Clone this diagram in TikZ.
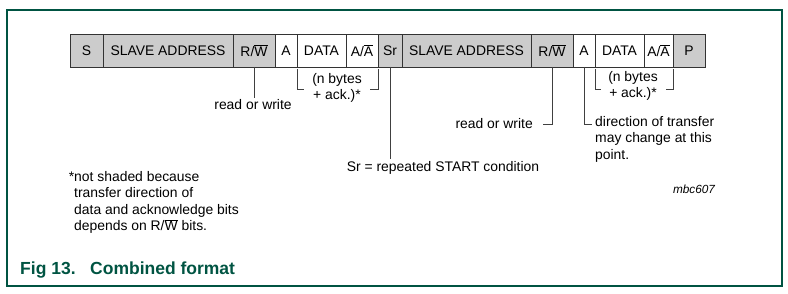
\documentclass[tikz,border=0pt]{standalone}
\usepackage{fontspec}
\setmainfont{Liberation Sans}
\usetikzlibrary{positioning}
\definecolor{figgreen}{RGB}{0,84,66}
\definecolor{cellgray}{RGB}{204,204,204}
\newcommand{\ovl}[1]{$\overline{\mbox{#1}}$}

\begin{document}
\begin{tikzpicture}[x=1pt, y=-1pt,
      cell/.style={draw=black!80, line width=0.8pt, outer sep=0pt, inner sep=0pt,
                   minimum height=33pt, font=\fontsize{13.9}{16.5}\selectfont},
      shd/.style={cell, fill=cellgray},
      lbl/.style={font=\fontsize{13.9}{16.5}\selectfont, inner sep=2pt, align=left},
      captxt/.style={font=\fontsize{17.5}{20}\selectfont\bfseries, text=figgreen, inner sep=0pt, anchor=base west},
      wire/.style={black!75, line width=0.8pt}]

    \useasboundingbox (0,0) rectangle (788,294);
    \draw[figgreen, line width=1.2pt] (7,10) rectangle (782,286);

    % ---- Layout ----
    \def\ry{50.5}     % row centre y
    \def\rx{70}       % row left x

    % ---- Frame row ----
    \node[shd, minimum width=33pt, anchor=west] (s) at (\rx, \ry) {S};
    \node[shd,  minimum width=130pt, right=0pt of s]   (sa1) {SLAVE ADDRESS};
    \node[shd,  minimum width=42pt,  right=0pt of sa1] (rw1) {R/\ovl{W}};
    \node[cell, minimum width=22pt,  right=0pt of rw1] (a1)  {A};
    \node[cell, minimum width=49pt,  right=0pt of a1]  (d1)  {DATA};
    \node[cell, minimum width=32pt,  right=0pt of d1]  (aa1) {A/\ovl{A}};
    \node[shd,  minimum width=24pt,  right=0pt of aa1] (sr)  {Sr};
    \node[shd,  minimum width=129pt, right=0pt of sr]  (sa2) {SLAVE ADDRESS};
    \node[shd,  minimum width=42pt,  right=0pt of sa2] (rw2) {R/\ovl{W}};
    \node[cell, minimum width=22pt,  right=0pt of rw2] (a2)  {A};
    \node[cell, minimum width=49pt,  right=0pt of a2]  (d2)  {DATA};
    \node[cell, minimum width=29pt,  right=0pt of d2]  (aa2) {A/\ovl{A}};
    \node[shd,  minimum width=32pt,  right=0pt of aa2] (p)   {P};

    % ---- n bytes brackets ----
    \draw[wire] ([yshift=-2pt]d1.south west) -- ++(0,20) -- ++(7,0);
    \draw[wire] ([yshift=-2pt]aa1.south east) -- ++(0,20) -- ++(-8,0);
    \node[lbl, align=center] (nb1) at (337,88) {(n bytes\\+ ack.)*};

    \draw[wire] ([yshift=-2pt]d2.south west) -- ++(0,20) -- ++(6,0);
    \draw[wire] ([yshift=-2pt]aa2.south east) -- ++(0,20) -- ++(-7,0);
    \node[lbl, align=center] (nb2) at (633,86) {(n bytes\\+ ack.)*};

    % ---- read / write, first address ----
    \node[lbl] (rwtxt1) at (253,105) {read or write};
    \draw[wire] (rw1.south) -- (rw1.south |- rwtxt1.north);

    % ---- repeated start ----
    \node[lbl] (srtxt) at (443,168) {Sr = repeated START condition};
    \draw[wire] (sr.south) -- (sr.south |- srtxt.north);

    % ---- read / write, second address ----
    \coordinate (rwend2) at (543,124);
    \draw[wire] (rw2.south) |- (rwend2);
    \node[lbl, left=8pt of rwend2] (rwtxt2) {read or write};

    % ---- change of direction ----
    \coordinate (dirend) at (592,124);
    \draw[wire] (a2.south) |- (dirend);
    \node[lbl, anchor=north west] (dirtxt) at (593,114)
        {direction of transfer\\may change at this\\point.};

    % ---- footnote and code ----
    \node[lbl, anchor=north west] (note) at (72,169)
        {\llap{*}not shaded because\\transfer direction of\\data and acknowledge bits\\depends on R/\ovl{W} bits.};
    \node[font=\fontsize{11.8}{14}\selectfont\itshape] (code) at (694,189) {mbc607};

    % ---- caption ----
    \node[captxt] (figno)  at (20,274) {Fig 13.};
    \node[captxt] (figttl) at (90,274) {Combined format};

\end{tikzpicture}
\end{document}
